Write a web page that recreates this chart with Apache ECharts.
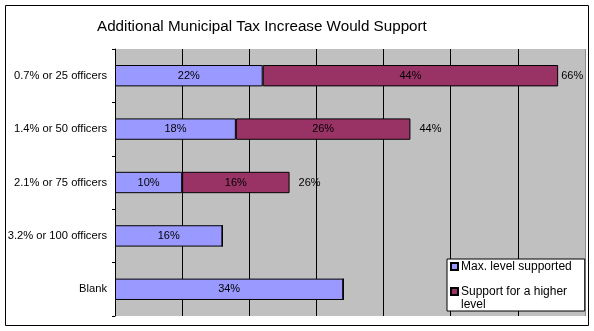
<!DOCTYPE html>
<html>
<head>
<meta charset="utf-8">
<style>
  html, body { margin: 0; padding: 0; background: #ffffff; }
  #chart { width: 594px; height: 331px; }
</style>
<script src="https://cdn.jsdelivr.net/npm/echarts@6/dist/echarts.min.js"></script>
</head>
<body>
<div id="chart"></div>
<script>
// Tax level options, top to bottom
const categories = ['0.7% or 25 officers', '1.4% or 50 officers', '2.1% or 75 officers', '3.2% or 100 officers', 'Blank'];
// Share of respondents (%) whose maximum supported level is this one
const maxLevelSupported = [22, 18, 10, 16, 34];
// Share of respondents (%) who would also support a higher level
const supportHigherLevel = [44, 26, 16, 0, 0];
// Value axis ticks (%)
const axisMin = 0, axisMax = 70, axisStep = 10;

const FONT = '"Liberation Sans", Arial, sans-serif';

// Row totals, shown only where a higher-level share exists
const totals = categories.map((_, i) =>
  supportHigherLevel[i] > 0 ? maxLevelSupported[i] + supportHigherLevel[i] : null);

// Gridlines are black; the one on the far plot edge is a soft grey
const gridColors = [];
for (let v = axisMin; v <= axisMax; v += axisStep) gridColors.push(v === axisMax ? '#8c8c8c' : '#000');

const chart = echarts.init(document.getElementById('chart'), null, { renderer: 'canvas' });

const insideLabel = {
  show: true,
  position: 'inside',
  color: '#000',
  fontFamily: FONT,
  fontSize: 11,
  formatter: p => (p.value ? p.value + '%' : '')
};

chart.setOption({
  animation: false,
  title: {
    text: 'Additional Municipal Tax Increase Would Support',
    left: 97,
    top: 19,
    padding: 0,
    textStyle: { fontFamily: FONT, fontSize: 15.2, fontWeight: 'normal', color: '#000' }
  },
  graphic: [{
    type: 'rect',
    silent: true,
    z: 100,
    shape: { x: 5.5, y: 5.5, width: 583, height: 320 },
    style: { fill: null, stroke: '#000', lineWidth: 1 }
  }],
  legend: {
    orient: 'vertical',
    left: 447,
    top: 259,
    height: 120,
    padding: [1, 13, 0, 3],
    itemGap: -1,
    itemWidth: 7,
    itemHeight: 7,
    icon: 'rect',
    backgroundColor: '#fff',
    borderColor: '#000',
    borderWidth: 1,
    textStyle: { fontFamily: FONT, fontSize: 12, lineHeight: 13, color: '#000', padding: [0, 0, 0, -2] },
    data: ['Max. level supported', 'Support for a higher level'],
    // The long entry wraps; a leading blank line keeps its marker level with the first text line
    formatter: n => n === 'Support for a higher level' ? '\nSupport for a higher\nlevel' : n
  },
  grid: {
    left: 115,
    top: 49,
    right: 9,
    bottom: 15,
    show: true,
    backgroundColor: '#C0C0C0',
    borderWidth: 0,
    containLabel: false
  },
  xAxis: {
    type: 'value',
    min: axisMin,
    max: axisMax,
    interval: axisStep,
    axisLabel: { show: false },
    axisLine: { show: false },
    axisTick: { show: false },
    splitLine: { show: true, lineStyle: { color: gridColors, width: 1 } }
  },
  yAxis: {
    type: 'category',
    inverse: true,
    data: categories,
    axisLine: { show: true, lineStyle: { color: '#000', width: 1 } },
    axisTick: { show: true, length: 3, lineStyle: { color: '#000' } },
    axisLabel: { color: '#000', fontFamily: FONT, fontSize: 11.2, margin: 8 },
    splitLine: { show: false }
  },
  series: [
    {
      name: 'Max. level supported',
      type: 'bar',
      stack: 'level',
      barWidth: '40%',
      data: maxLevelSupported,
      itemStyle: { color: '#9999FF', borderColor: '#000', borderWidth: 1 },
      label: insideLabel
    },
    {
      name: 'Support for a higher level',
      type: 'bar',
      stack: 'level',
      barWidth: '40%',
      data: supportHigherLevel,
      itemStyle: { color: '#993366', borderColor: '#000', borderWidth: 1 },
      label: insideLabel
    },
    {
      // Invisible bar spanning the full total, used only to place the total label
      name: 'Total',
      type: 'bar',
      barWidth: '40%',
      barGap: '-100%',
      z: 1,
      data: totals.map(v => ({
        value: v,
        label: { distance: v !== null && v > axisMax - 8 ? 3 : 9 }
      })),
      itemStyle: { color: 'rgba(0,0,0,0)' },
      label: {
        show: true,
        position: 'right',
        color: '#000',
        fontFamily: FONT,
        fontSize: 11,
        formatter: p => (p.value != null ? p.value + '%' : '')
      },
      silent: true
    }
  ]
});
</script>
</body>
</html>
